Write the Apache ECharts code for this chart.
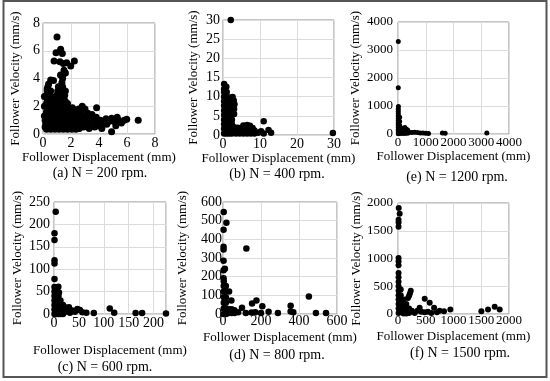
<!DOCTYPE html>
<html><head><meta charset="utf-8">
<script src="https://cdn.jsdelivr.net/npm/echarts@6/dist/echarts.min.js"></script>
<style>html,body{margin:0;padding:0;background:#fff}#c{width:550px;height:381px}</style>
</head><body><div id="c"></div>
<script>
// ---- data ----
var captions = ['(a) N = 200 rpm.', '(b) N = 400 rpm.', '(e) N = 1200 rpm.', '(c) N = 600 rpm.', '(d) N = 800 rpm.', '(f) N = 1500 rpm.'];
var xName = 'Follower Displacement (mm)';
var yName = 'Follower Velocity (mm/s)';
var axisMax = [8, 30, 4000, 225, 600, 2000];
var yAxisMax = [8, 30, 4000, 250, 600, 2000];
var xStep = [2, 10, 1000, 50, 200, 500];
var yStep = [2, 5, 1000, 50, 100, 500];

var dataA = [
[0.25,0.35],[0.55,0.35],[0.85,0.35],[1.15,0.35],[1.45,0.35],[1.75,0.35],[2.05,0.35],[2.35,0.35],
[0.4,0.5],[0.7,0.5],[1.0,0.5],[1.3,0.5],[1.6,0.5],[1.9,0.5],[2.2,0.5],
[0.2,0.7],[0.5,0.7],[0.8,0.7],[1.1,0.7],[1.4,0.7],[1.7,0.7],[2.0,0.7],[2.3,0.7],[2.6,0.7],[2.9,0.7],
[0.35,0.85],[0.65,0.85],[0.95,0.85],[1.25,0.85],[1.55,0.85],[1.85,0.85],[2.15,0.85],[2.45,0.85],[2.75,0.85],
[0.15,1.0],[0.45,1.0],[0.75,1.0],[1.05,1.0],[1.35,1.0],[1.65,1.0],[1.95,1.0],[2.25,1.0],[2.55,1.0],[2.85,1.0],[3.15,1.0],
[0.35,1.15],[0.65,1.15],[0.95,1.15],[1.25,1.15],[1.55,1.15],[1.85,1.15],[2.15,1.15],[2.45,1.15],[2.75,1.15],
[0.2,1.3],[0.5,1.3],[0.8,1.3],[1.1,1.3],[1.4,1.3],[1.7,1.3],[2.0,1.3],[2.3,1.3],[2.6,1.3],[2.9,1.3],
[0.4,1.45],[0.7,1.45],[1.0,1.45],[1.3,1.45],[1.6,1.45],[1.9,1.45],[2.2,1.45],[2.5,1.45],
[0.25,1.6],[0.55,1.6],[0.85,1.6],[1.15,1.6],[1.45,1.6],[1.75,1.6],[2.05,1.6],[2.35,1.6],
[0.4,1.75],[0.7,1.75],[1.0,1.75],[1.3,1.75],[1.6,1.75],[1.9,1.75],[2.2,1.75],
[0.3,1.9],[0.6,1.9],[0.9,1.9],[1.2,1.9],[1.5,1.9],[1.8,1.9],[2.1,1.9],
[0.4,2.05],[0.7,2.05],[1.0,2.05],[1.3,2.05],[1.6,2.05],
[0.25,2.2],[0.55,2.2],[0.85,2.2],[1.15,2.2],[1.45,2.2],[1.75,2.2],
[0.4,2.35],[0.7,2.35],[1.0,2.35],[1.3,2.35],[1.6,2.35],
[0.3,2.5],[0.6,2.5],[0.9,2.5],[1.2,2.5],[1.5,2.5],
[0.4,2.65],[0.75,2.65],[1.15,2.65],[1.45,2.65],
[0.25,2.8],[0.5,2.8],[1.0,2.8],[1.3,2.8],[1.55,2.8],
[0.4,2.95],[1.2,2.95],[1.45,2.95],
[0.3,3.1],[0.55,3.1],[1.05,3.1],[1.35,3.1],[1.6,3.1],
[0.35,3.4],[1.1,3.4],[1.4,3.4],[0.3,3.25],[1.25,3.25],
[0.4,3.6],[0.55,3.9],[0.75,3.85],[1.35,3.7],[1.4,4.0],[1.45,4.3],[1.5,4.6],[1.6,4.4],[1.25,4.25],
[1.0,7.0],[0.93,5.85],[1.26,6.1],[1.38,5.8],[0.79,5.27],[1.21,5.2],[1.45,5.08],[1.69,5.13],[2.24,5.27],[1.98,4.9],
[0.1,1.3],[0.1,2.0],[0.1,2.7],[0.15,0.5],
[3.2,0.6],[3.4,1.0],[3.1,1.3],[3.6,0.9],[3.8,1.2],[3.5,1.4],[3.3,0.4],[3.83,1.9],[4.1,1.0],[4.3,0.8],
[4.5,1.1],[4.2,0.4],[4.55,0.7],[4.9,0.17],[4.8,1.0],[4.9,1.13],[5.1,0.9],[5.3,1.2],[5.4,1.0],[5.6,0.8],
[5.8,1.0],[5.98,1.06],[6.8,1.0],[2.7,1.6],[3.0,1.8],[2.6,0.4],[3.0,0.9],[3.7,0.5],[5.2,0.6],[2.8,2.0],
[3.3,0.8],[3.6,1.1],[3.9,0.8],[2.9,0.5],[3.2,1.5],[4.0,0.6],[4.7,0.9],[5.0,1.0],[2.55,1.8],[2.75,1.4]
];
var dataB = [
[2.1,30],[0.3,13.3],[0.9,12.6],[2.6,9.9],
[0.3,0.4],[0.3,1.6],[0.3,2.8],[0.3,4.0],[0.3,5.2],[0.3,6.4],[0.3,7.6],[0.3,8.8],[0.3,10.0],[0.3,11.2],[0.3,12.0],
[1.0,0.4],[1.0,1.6],[1.0,2.8],[1.0,4.0],[1.0,5.2],[1.0,6.4],[1.0,7.6],[1.0,8.8],[1.0,10.0],[1.0,11.2],
[1.7,0.4],[1.7,1.6],[1.7,2.8],[1.7,4.0],[1.7,5.2],[1.7,6.4],[1.7,7.6],[1.7,8.8],[1.7,9.8],
[2.4,0.4],[2.4,1.6],[2.4,2.8],[2.4,4.0],[2.4,5.2],[2.4,6.4],[2.4,7.6],[2.4,8.8],
[3.0,5.5],[3.0,6.8],[3.1,8.0],[2.9,9.0],
[3.5,0.4],[4.5,0.4],[5.5,0.4],[6.5,0.4],[7.5,0.4],[8.5,0.4],
[3.5,1.2],[4.5,1.2],[5.5,1.2],[6.5,1.2],[7.5,1.2],[8.5,1.2],
[3.0,2.0],[4.0,1.9],[5.0,1.9],[6.0,2.0],[7.0,2.0],[8.0,1.8],
[5.5,2.5],[6.5,2.6],[7.3,2.4],[9.5,0.6],[10.3,1.0],[11.0,0.4],
[11.0,3.6],[12.3,1.3],[13.0,0.6],[29.7,0.5]
];
var dataE = [
[10,3300],[10,1650],[15,980],
[10,880],[10,800],[10,720],[10,640],[10,560],[10,480],[10,400],[10,320],[10,240],[10,160],[10,80],[10,10],
[60,600],[60,450],[60,300],[60,150],[60,20],
[120,100],[150,200],[190,205],[250,230],[300,170],[350,140],[200,80],[280,60],[150,20],[250,20],[350,30],
[400,60],[500,50],[600,60],[700,50],[800,40],[900,40],[1000,30],[1100,20],[1600,40],[1700,30],[3200,40]
];
var dataC = [
[3.4,228],[1,180],[1,165],[1,120],[1,113],[1,78],[8.7,61],[10,48],
[1,0],[1,10],[1,20],[1,30],[1,40],[1,50],[1,60],
[5,0],[5,10],[5,20],[5,30],[5,40],[5,50],
[9,0],[9,10],[9,20],[9,30],[9,40],
[13,0],[13,10],[13,20],[13,30],
[18,0],[18,10],[18,20],
[3,5],[3,15],[3,25],[3,35],[3,45],[7,5],[7,15],[7,25],[7,35],[11,5],[11,15],[11,25],[15,5],[15,15],
[22,15],[24,5],[27,10],[30,15],[32,3],[37,8],[42,5],[47,11],[52,9],[57,4],[65,3],[80,2],
[112,12],[121,3],[164,2],[177,2],[225,1]
];
var dataD = [
[3.7,546],[18,489],[3,452],[3,360],[3,345],[3,285],[10,243],[3,235],[3,191],
[4,0],[4,30],[4,60],[4,90],[4,120],[4,150],[4,175],
[15,0],[15,30],[15,60],[15,90],[15,120],[15,150],
[30,5],[30,25],[45,5],[45,25],[60,5],[60,20],
[123,351],[32,120],[44,72],[176,72],[153,56],[207,42],[100,33],[356,44],[452,94],
[80,10],[120,5],[150,8],[170,10],[200,5],[240,12],[289,5],[356,14],[370,10],[489,5],[542,5]
];
var dataF = [
[13,1910],[30,1808],[10,1700],[10,1650],[10,1570],[10,1010],[10,950],[10,880],
[10,740],[10,660],[10,580],[10,500],[10,420],[10,340],[10,260],[10,180],[10,100],[10,20],
[50,440],[50,340],[50,240],[50,140],[50,40],
[100,260],[100,170],[100,80],[100,10],
[150,180],[150,90],[150,10],[200,100],[200,20],[250,60],[300,20],
[180,290],[200,330],[215,370],[230,420],
[481,273],[571,201],[390,111],[650,111],[829,50],[943,80],[1502,50],[1622,80],[1742,130],[1832,80],
[350,60],[420,40],[480,30],[540,40],[600,20],[700,30],[750,60]
];
var panelData = [dataA, dataB, dataE, dataC, dataD, dataF];

// ---- layout (pixels) ----
var grids = [
  {left:43, top:23, width:112, height:111},
  {left:223, top:20, width:111, height:115},
  {left:398, top:22, width:111, height:112},
  {left:54, top:202, width:112, height:112},
  {left:223, top:202, width:114, height:112},
  {left:398, top:203, width:111, height:111}
];
var yGap = [21, 23, 36, 30, 34, 31];
var xGap = [15, 15, 16, 30, 17, 16];
var tickFont = [14, 14, 13, 14, 14, 13];
var yLabMargin = [3, 3, 5, 4, 1, 5];
var xLabMargin = [2, 2, 2, 2, 0, 0];
var symSize = [7, 6.5, 5, 6.5, 6.5, 6];
var capPos = [[100,173],[277,174],[457,177],[105,367],[277,355],[460,353]];

var FONT = 'Liberation Serif';
var option = {
  backgroundColor: '#fff',
  animation: false,
  textStyle: {fontFamily: FONT},
  grid: [], xAxis: [], yAxis: [], series: [], graphic: []
};
function nameStyle() {
  return {fontFamily:FONT, fontSize:13, color:'#000', rich:{n:{fontFamily:FONT, fontSize:13, color:'#000'}}};
}
for (var i = 0; i < 6; i++) {
  var g = grids[i];
  option.grid.push({left:g.left, top:g.top, width:g.width, height:g.height, show:true, borderColor:'#8c8c8c', borderWidth:1, containLabel:false});
  (function(i){
    var tickRich = {t:{fontFamily:FONT, fontSize:tickFont[i], color:'#000'}};
    option.xAxis.push({
      gridIndex:i, type:'value', min:0, max:axisMax[i], interval:xStep[i],
      name:'{n|' + xName + '}', nameLocation:'middle', nameGap:xGap[i],
      nameTextStyle:nameStyle(),
      axisLine:{show:false}, axisTick:{show:false},
      axisLabel:{fontFamily:FONT, fontSize:tickFont[i], color:'#000', margin:xLabMargin[i], rich:tickRich,
        formatter:function(v){ return (v % xStep[i] === 0) ? '{t|' + v + '}' : ''; }},
      splitLine:{show:true, lineStyle:{color:'#dcdcdc', width:1}}
    });
    option.yAxis.push({
      gridIndex:i, type:'value', min:0, max:yAxisMax[i], interval:yStep[i],
      name:'{n|' + yName + '}', nameLocation:'middle', nameGap:yGap[i],
      nameTextStyle:nameStyle(),
      axisLine:{show:false}, axisTick:{show:false},
      axisLabel:{fontFamily:FONT, fontSize:tickFont[i], color:'#000', margin:yLabMargin[i], rich:tickRich,
        formatter:function(v){ return (v % yStep[i] === 0) ? '{t|' + v + '}' : ''; }},
      splitLine:{show:true, lineStyle:{color:'#dcdcdc', width:1}}
    });
  })(i);
  option.series.push({
    type:'scatter', xAxisIndex:i, yAxisIndex:i, data:panelData[i],
    symbol:'circle', symbolSize:symSize[i], itemStyle:{color:'#000', opacity:1}, clip:false
  });
  option.graphic.push({
    type:'text', x:capPos[i][0], y:capPos[i][1],
    style:{text:captions[i], fill:'#000', fontFamily:FONT, fontSize:14, align:'center', verticalAlign:'middle'}
  });
}
option.graphic.push({type:'rect', shape:{x:3.5, y:1, width:543, height:376}, style:{fill:null, stroke:'#555', lineWidth:2}, silent:true, z:100});
var chart = echarts.init(document.getElementById('c'), null, {renderer:'canvas'});
chart.setOption(option);
</script>
</body></html>
